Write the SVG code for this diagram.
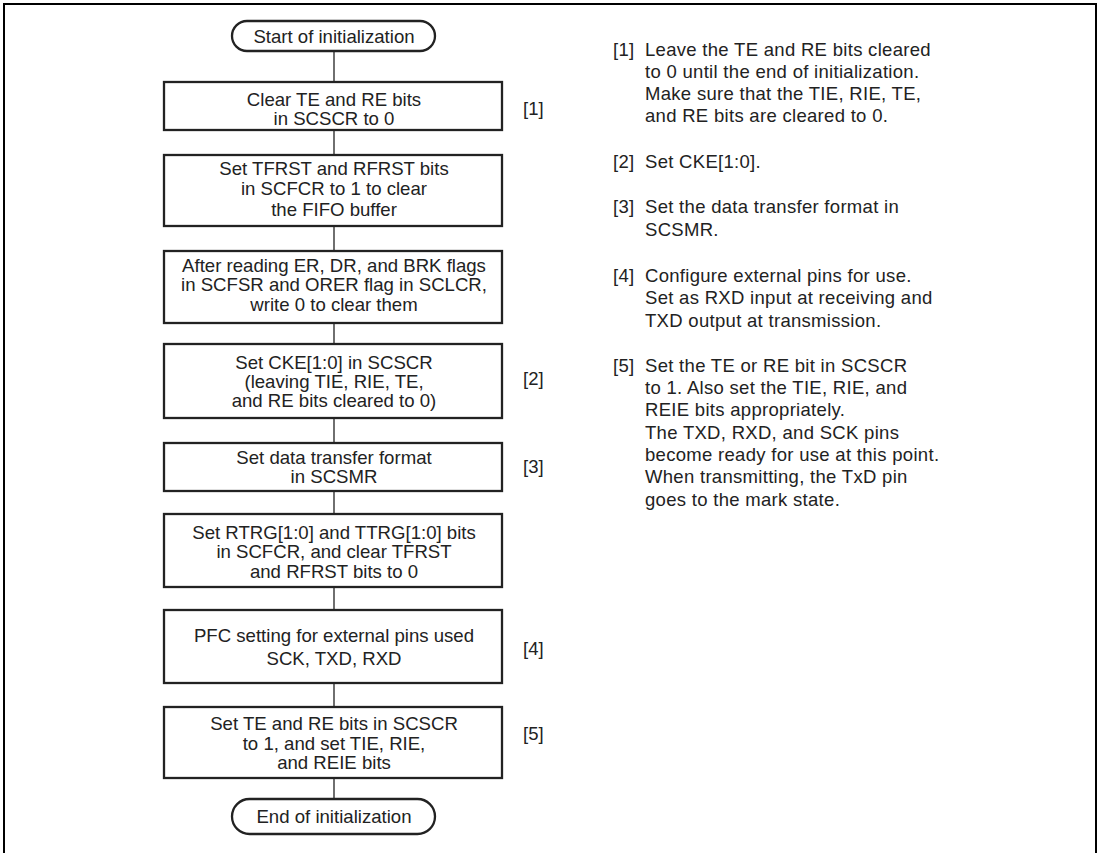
<svg xmlns="http://www.w3.org/2000/svg" width="1100" height="853" viewBox="0 0 1100 853">
<style>
.frame{fill:none;stroke:#000;stroke-width:2}
.box{fill:#fff;stroke:#222;stroke-width:2.3}
.conn{stroke:#222;stroke-width:1.3;fill:none}
.t{font-family:"Liberation Sans",Arial,sans-serif;font-size:18.6px;fill:#222;text-anchor:middle}
.r{font-family:"Liberation Sans",Arial,sans-serif;font-size:18.5px;fill:#222;letter-spacing:0.3px}
.n{font-family:"Liberation Sans",Arial,sans-serif;font-size:18.5px;fill:#222}
</style>
<rect width="1100" height="853" fill="#fff"/>
<path class="frame" d="M4,853 V4 H1096 V853"/>
<g id="connectors">
<line class="conn" x1="334" y1="51" x2="334" y2="82"/>
<line class="conn" x1="334" y1="130" x2="334" y2="155"/>
<line class="conn" x1="334" y1="226" x2="334" y2="251"/>
<line class="conn" x1="334" y1="323" x2="334" y2="344"/>
<line class="conn" x1="334" y1="418" x2="334" y2="443"/>
<line class="conn" x1="334" y1="491" x2="334" y2="514"/>
<line class="conn" x1="334" y1="587" x2="334" y2="610"/>
<line class="conn" x1="334" y1="683" x2="334" y2="707"/>
<line class="conn" x1="334" y1="778" x2="334" y2="799"/>
</g>
<g id="start">
<rect class="box" x="232" y="21" width="203" height="30" rx="15"/>
<text class="t" x="334" y="42.5">Start of initialization</text>
</g>
<g id="step1">
<rect class="box" x="164" y="82" width="338" height="48"/>
<text class="t" x="334" y="106">Clear TE and RE bits</text>
<text class="t" x="334" y="125">in SCSCR to 0</text>
</g>
<g id="step2">
<rect class="box" x="164" y="155" width="338" height="71"/>
<text class="t" x="334" y="175">Set TFRST and RFRST bits</text>
<text class="t" x="334" y="195">in SCFCR to 1 to clear</text>
<text class="t" x="334" y="216">the FIFO buffer</text>
</g>
<g id="step3">
<rect class="box" x="164" y="251" width="338" height="72"/>
<text class="t" x="334" y="272">After reading ER, DR, and BRK flags</text>
<text class="t" x="334" y="291">in SCFSR and ORER flag in SCLCR,</text>
<text class="t" x="334" y="311">write 0 to clear them</text>
</g>
<g id="step4">
<rect class="box" x="164" y="344" width="338" height="74"/>
<text class="t" x="334" y="369">Set CKE[1:0] in SCSCR</text>
<text class="t" x="334" y="388">(leaving TIE, RIE, TE,</text>
<text class="t" x="334" y="407">and RE bits cleared to 0)</text>
</g>
<g id="step5">
<rect class="box" x="164" y="443" width="338" height="48"/>
<text class="t" x="334" y="464">Set data transfer format</text>
<text class="t" x="334" y="483">in SCSMR</text>
</g>
<g id="step6">
<rect class="box" x="164" y="514" width="338" height="73"/>
<text class="t" x="334" y="539">Set RTRG[1:0] and TTRG[1:0] bits</text>
<text class="t" x="334" y="558">in SCFCR, and clear TFRST</text>
<text class="t" x="334" y="578">and RFRST bits to 0</text>
</g>
<g id="step7">
<rect class="box" x="164" y="610" width="338" height="73"/>
<text class="t" x="334" y="642">PFC setting for external pins used</text>
<text class="t" x="334" y="665">SCK, TXD, RXD</text>
</g>
<g id="step8">
<rect class="box" x="164" y="707" width="338" height="71"/>
<text class="t" x="334" y="730">Set TE and RE bits in SCSCR</text>
<text class="t" x="334" y="750">to 1, and set TIE, RIE,</text>
<text class="t" x="334" y="769">and REIE bits</text>
</g>
<g id="end">
<rect class="box" x="232" y="799" width="203" height="35" rx="17.5"/>
<text class="t" x="334" y="823">End of initialization</text>
</g>
<g id="step-labels">
<text class="n" x="523" y="115">[1]</text>
<text class="n" x="523" y="385">[2]</text>
<text class="n" x="523" y="473">[3]</text>
<text class="n" x="523" y="655">[4]</text>
<text class="n" x="523" y="740">[5]</text>
</g>
<g id="notes">
<text class="r" x="613" y="56">[1]</text>
<text class="r" x="645" y="56">Leave the TE and RE bits cleared</text>
<text class="r" x="645" y="78">to 0 until the end of initialization.</text>
<text class="r" x="645" y="100">Make sure that the TIE, RIE, TE,</text>
<text class="r" x="645" y="122">and RE bits are cleared to 0.</text>
<text class="r" x="613" y="168">[2]</text>
<text class="r" x="645" y="168">Set CKE[1:0].</text>
<text class="r" x="613" y="213">[3]</text>
<text class="r" x="645" y="213">Set the data transfer format in</text>
<text class="r" x="645" y="236">SCSMR.</text>
<text class="r" x="613" y="282">[4]</text>
<text class="r" x="645" y="282">Configure external pins for use.</text>
<text class="r" x="645" y="304">Set as RXD input at receiving and</text>
<text class="r" x="645" y="327">TXD output at transmission.</text>
<text class="r" x="613" y="372">[5]</text>
<text class="r" x="645" y="372">Set the TE or RE bit in SCSCR</text>
<text class="r" x="645" y="394">to 1. Also set the TIE, RIE, and</text>
<text class="r" x="645" y="416">REIE bits appropriately.</text>
<text class="r" x="645" y="439">The TXD, RXD, and SCK pins</text>
<text class="r" x="645" y="461">become ready for use at this point.</text>
<text class="r" x="645" y="483">When transmitting, the TxD pin</text>
<text class="r" x="645" y="506">goes to the mark state.</text>
</g>
</svg>
